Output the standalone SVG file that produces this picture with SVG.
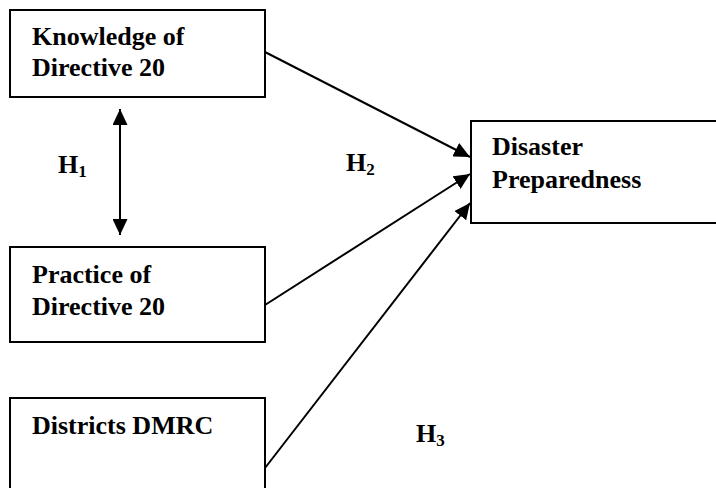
<svg xmlns="http://www.w3.org/2000/svg" width="716" height="488" viewBox="0 0 716 488">
<style>
.box{fill:#fff;stroke:#000;stroke-width:2}
.lbl{font-family:"Liberation Serif","Times New Roman",serif;font-weight:bold;font-size:26px;fill:#000}
.sub{font-size:17px}
.con{stroke:#000;stroke-width:2;fill:none}
</style>
<defs>
<marker id="ah" viewBox="0 0 16 15" refX="16" refY="7.5" markerWidth="16" markerHeight="15" markerUnits="userSpaceOnUse" orient="auto-start-reverse">
<path d="M0,0 L16,7.5 L0,15 Z" fill="#000"/>
</marker>
</defs>
<rect width="716" height="488" fill="#fff"/>
<g id="connectors">
<line class="con" x1="120" y1="109" x2="120" y2="235" marker-start="url(#ah)" marker-end="url(#ah)"/>
<line class="con" x1="265" y1="52" x2="470" y2="157" marker-end="url(#ah)"/>
<line class="con" x1="265" y1="305" x2="470" y2="174" marker-end="url(#ah)"/>
<line class="con" x1="265" y1="468" x2="470" y2="203" marker-end="url(#ah)"/>
</g>
<g id="knowledge">
<rect class="box" x="10" y="10" width="255" height="87"/>
<text class="lbl" x="32" y="45">Knowledge of</text>
<text class="lbl" x="32" y="76">Directive 20</text>
</g>
<g id="practice">
<rect class="box" x="10" y="247" width="255" height="95"/>
<text class="lbl" x="32" y="283">Practice of</text>
<text class="lbl" x="32" y="315">Directive 20</text>
</g>
<g id="districts">
<rect class="box" x="10" y="398" width="255" height="100"/>
<text class="lbl" x="32" y="434">Districts DMRC</text>
</g>
<g id="preparedness">
<rect class="box" x="471" y="121" width="260" height="102"/>
<text class="lbl" x="492" y="155">Disaster</text>
<text class="lbl" x="492" y="188">Preparedness</text>
</g>
<g id="labels">
<text class="lbl" x="58" y="173">H<tspan class="sub" dy="4">1</tspan></text>
<text class="lbl" x="346" y="171">H<tspan class="sub" dy="4">2</tspan></text>
<text class="lbl" x="416" y="442">H<tspan class="sub" dy="4">3</tspan></text>
</g>
</svg>
